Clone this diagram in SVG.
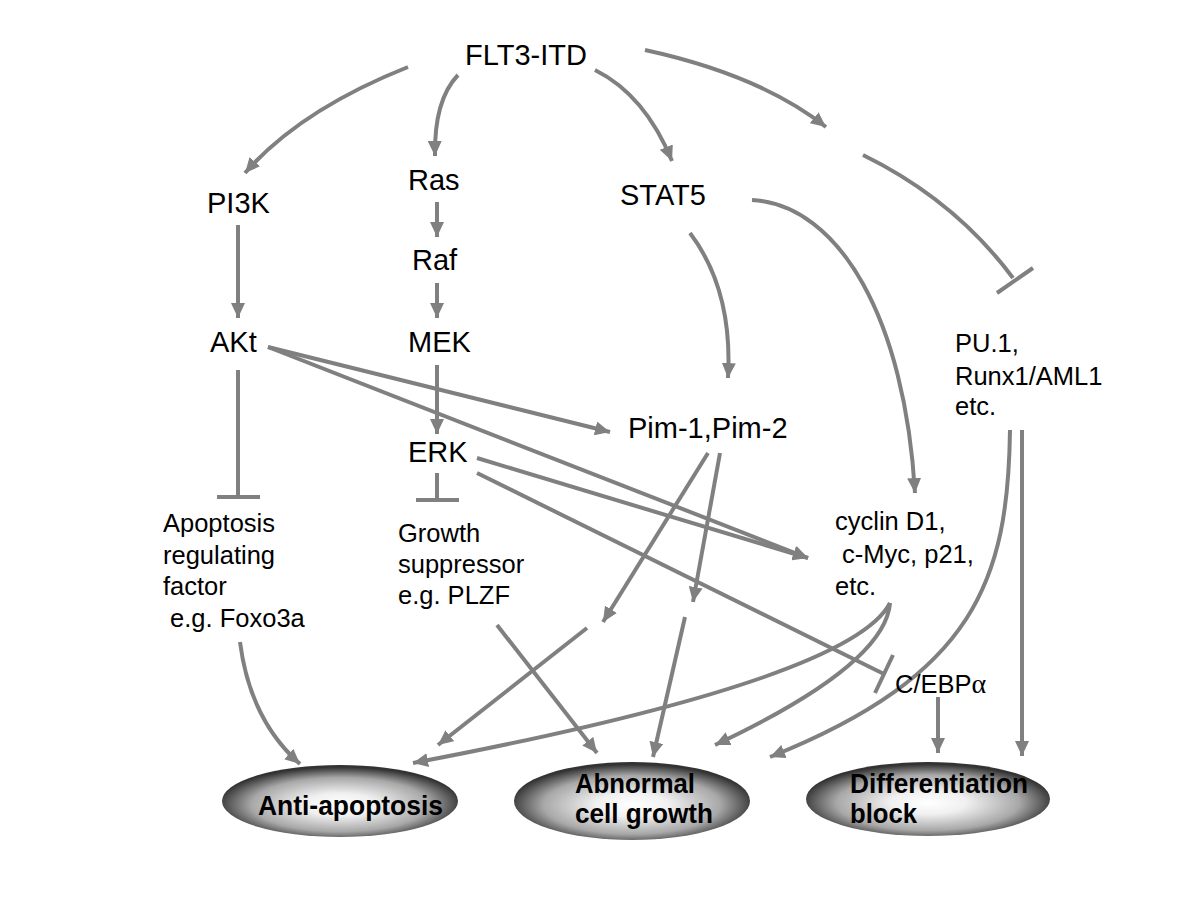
<svg xmlns="http://www.w3.org/2000/svg" width="1200" height="900" viewBox="0 0 1200 900">
<style>
.c{fill:none;stroke:#808080;stroke-width:4}
.a{marker-end:url(#ah)}
.t{font-family:"Liberation Sans",Arial,sans-serif;fill:#000}
.big{font-size:29px}
.sm{font-size:25.5px}
.el{font-family:"Liberation Sans",Arial,sans-serif;font-weight:bold;font-size:28px;fill:#000}
</style>
<defs>
<marker id="ah" markerWidth="15" markerHeight="14" refX="15" refY="7" orient="auto" markerUnits="userSpaceOnUse">
<path d="M0,0 L15,7 L0,14 z" fill="#808080"/>
</marker>
<radialGradient id="g" cx="50%" cy="55%" r="52%">
<stop offset="0" stop-color="#ffffff"/>
<stop offset="0.3" stop-color="#f0f0f0"/>
<stop offset="0.72" stop-color="#a8a8a8"/>
<stop offset="1" stop-color="#333333"/>
</radialGradient>
</defs>
<rect width="1200" height="900" fill="#fff"/>
<g id="connectors">
<path class="c a" d="M408,67 Q300,110 245,173"/>
<path class="c a" d="M458,75 Q434,100 435,156"/>
<path class="c a" d="M595,70 Q645,95 672,161"/>
<path class="c a" d="M645,50 Q760,75 826,127"/>
<path class="c" d="M863,155 Q955,200 1013,278"/>
<line class="c" x1="997" y1="293" x2="1033" y2="268"/>
<line class="c a" x1="238" y1="225" x2="238" y2="318"/>
<line class="c a" x1="437" y1="202" x2="437" y2="237"/>
<line class="c a" x1="437" y1="283" x2="437" y2="318"/>
<line class="c a" x1="437" y1="365" x2="437" y2="434"/>
<line class="c a" x1="268" y1="347" x2="610" y2="432"/>
<line class="c a" x1="268" y1="347" x2="808" y2="558"/>
<line class="c a" x1="477" y1="458" x2="808" y2="558"/>
<line class="c" x1="477" y1="473" x2="884" y2="674"/>
<line class="c" x1="893" y1="655" x2="875" y2="693"/>
<line class="c" x1="238" y1="370" x2="238" y2="497"/>
<line class="c" x1="217" y1="497" x2="260" y2="497"/>
<line class="c" x1="437" y1="473" x2="437" y2="500"/>
<line class="c" x1="416" y1="500" x2="459" y2="500"/>
<path class="c a" d="M690,233 Q733,290 728,378"/>
<path class="c a" d="M752,200 C840,205 905,320 915,493"/>
<line class="c a" x1="708" y1="453" x2="603" y2="622"/>
<line class="c a" x1="587" y1="628" x2="438" y2="745"/>
<line class="c a" x1="720" y1="453" x2="693" y2="602"/>
<line class="c a" x1="685" y1="617" x2="653" y2="757"/>
<line class="c a" x1="497" y1="625" x2="597" y2="753"/>
<path class="c a" d="M240,642 Q250,720 300,764"/>
<path class="c a" d="M890,603 Q850,680 413,763"/>
<path class="c a" d="M890,603 Q885,665 715,745"/>
<path class="c a" d="M1010,430 C1008,580 975,675 770,757"/>
<line class="c a" x1="1022" y1="430" x2="1022" y2="756"/>
<line class="c a" x1="938" y1="697" x2="938" y2="753"/>
</g>
<g id="flt3"><text class="t big" x="465" y="65">FLT3-ITD</text></g>
<g id="pi3k"><text class="t big" x="207" y="213">PI3K</text></g>
<g id="ras"><text class="t big" x="408" y="190">Ras</text></g>
<g id="stat5"><text class="t big" x="620" y="205">STAT5</text></g>
<g id="raf"><text class="t big" x="412" y="270">Raf</text></g>
<g id="akt"><text class="t big" x="210" y="352">AKt</text></g>
<g id="mek"><text class="t big" x="408" y="352">MEK</text></g>
<g id="erk"><text class="t big" x="408" y="462">ERK</text></g>
<g id="pim"><text class="t big" x="628" y="438">Pim-1,Pim-2</text></g>
<g id="pu1"><text class="t sm" x="955" y="352">PU.1,</text><text class="t sm" x="955" y="385">Runx1/AML1</text><text class="t sm" x="955" y="415">etc.</text></g>
<g id="apoptosis"><text class="t sm" x="163" y="532">Apoptosis</text><text class="t sm" x="163" y="564">regulating</text><text class="t sm" x="163" y="595">factor</text><text class="t sm" x="163" y="627" xml:space="preserve"> e.g. Foxo3a</text></g>
<g id="growth"><text class="t sm" x="398" y="542">Growth</text><text class="t sm" x="398" y="573">suppressor</text><text class="t sm" x="398" y="604">e.g. PLZF</text></g>
<g id="cyclin"><text class="t sm" x="835" y="530">cyclin D1,</text><text class="t sm" x="835" y="563" xml:space="preserve"> c-Myc, p21,</text><text class="t sm" x="835" y="595">etc.</text></g>
<g id="cebpa"><text class="t sm" x="895" y="693">C/EBP<tspan font-family="Liberation Serif,serif" font-size="28px">α</tspan></text></g>
<g id="anti"><ellipse cx="340" cy="801" rx="118" ry="36" fill="url(#g)"/><text class="el" x="258" y="815" textLength="185" lengthAdjust="spacingAndGlyphs">Anti-apoptosis</text></g>
<g id="abnormal"><ellipse cx="632" cy="801" rx="118" ry="39" fill="url(#g)"/><text class="el" x="575" y="793" textLength="120" lengthAdjust="spacingAndGlyphs">Abnormal</text><text class="el" x="575" y="823" textLength="138" lengthAdjust="spacingAndGlyphs">cell growth</text></g>
<g id="diff"><ellipse cx="928" cy="799" rx="122" ry="37" fill="url(#g)"/><text class="el" x="850" y="793" textLength="178" lengthAdjust="spacingAndGlyphs">Differentiation</text><text class="el" x="850" y="823" textLength="67" lengthAdjust="spacingAndGlyphs">block</text></g>
</svg>
